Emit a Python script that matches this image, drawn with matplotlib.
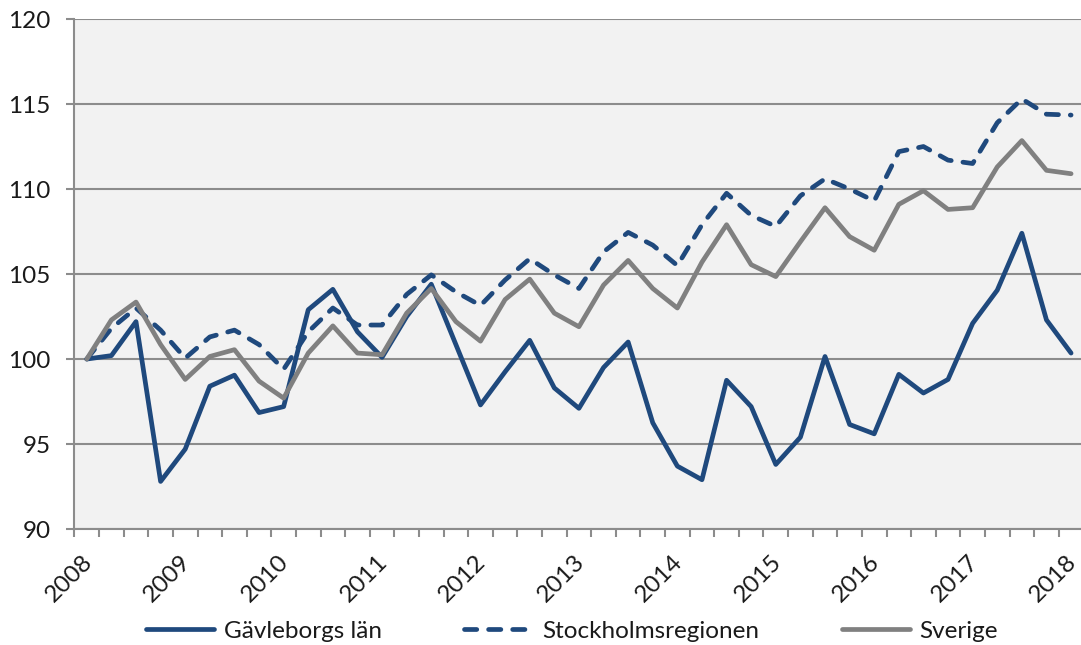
import numpy as np
import matplotlib
matplotlib.use("Agg")
import matplotlib.pyplot as plt
import matplotlib.transforms as mtransforms

# Quarterly index, 2008 Q1 = 100
years = [str(y) for y in range(2008, 2019)]
gavleborg = [100.0, 100.2, 102.2, 92.8, 94.7, 98.4, 99.05, 96.85, 97.2, 102.9,
             104.1, 101.6, 100.1, 102.5, 104.4, 100.85, 97.3, 99.25, 101.1, 98.3,
             97.1, 99.5, 101.0, 96.25, 93.7, 92.9, 98.75, 97.2, 93.8, 95.4,
             100.15, 96.15, 95.6, 99.1, 98.0, 98.8, 102.1, 104.05, 107.4, 102.3,
             100.35]
stockholm = [100.0, 101.8, 103.0, 101.7, 100.05, 101.3, 101.7, 100.85, 99.4, 101.6,
             103.0, 102.0, 102.0, 103.8, 104.95, 103.95, 103.15, 104.65, 105.9, 104.95,
             104.15, 106.3, 107.45, 106.7, 105.5, 107.9, 109.75, 108.45, 107.8, 109.6,
             110.6, 110.0, 109.3, 112.2, 112.5, 111.7, 111.5, 113.9, 115.3, 114.4,
             114.35]
sverige = [100.0, 102.3, 103.35, 100.85, 98.8, 100.15, 100.55, 98.7, 97.7, 100.35,
           101.95, 100.35, 100.25, 102.7, 104.15, 102.2, 101.05, 103.5, 104.7, 102.7,
           101.9, 104.35, 105.8, 104.15, 103.0, 105.7, 107.9, 105.55, 104.85, 106.9,
           108.9, 107.2, 106.4, 109.1, 109.9, 108.8, 108.9, 111.3, 112.85, 111.1,
           110.9]

BLUE = '#1F497D'
GREY = '#808080'
GRID = '#8C8C8C'
FS = 17.5

plt.rcParams['font.family'] = ['Lato', 'DejaVu Sans']

fig = plt.figure(figsize=(10.81, 6.45), dpi=100)
ax = fig.add_axes([0.0689, 0.1798, 0.9333, 0.7907])
ax.set_facecolor('#F2F2F2')

x = np.arange(len(gavleborg))
ax.plot(x, gavleborg, color=BLUE, lw=3.4, solid_capstyle='round',
        solid_joinstyle='round', label='Gävleborgs län', zorder=3)
ax.plot(x, stockholm, color=BLUE, lw=3.4, dashes=(2.6, 2.5),
        dash_capstyle='round', dash_joinstyle='round',
        label='Stockholmsregionen', zorder=4)
ax.plot(x, sverige, color=GREY, lw=3.4, solid_capstyle='round',
        solid_joinstyle='round', label='Sverige', zorder=5)

ax.set_xlim(-0.5, len(gavleborg) - 0.5)
ax.set_ylim(90, 120)
ax.set_yticks(np.arange(90, 121, 5))
ax.yaxis.grid(True, color=GRID, lw=1.5)
ax.set_axisbelow(True)

for s in ['top', 'right']:
    ax.spines[s].set_visible(False)
for s in ['left', 'bottom']:
    ax.spines[s].set_color(GRID)
    ax.spines[s].set_linewidth(1.5)

ax.tick_params(axis='y', direction='out', length=6, width=1.5, color=GRID,
               labelsize=FS, pad=11, labelcolor='#1a1a1a')

# year labels on every 4th quarter, tick marks between categories
ax.set_xticks(np.arange(0, len(gavleborg), 4))
ax.set_xticklabels(years)
ax.set_xticks(np.arange(-0.5, len(gavleborg), 1), minor=True)
ax.tick_params(axis='x', which='major', length=0, pad=21, labelsize=FS,
               labelcolor='#1a1a1a')
ax.tick_params(axis='x', which='minor', direction='out', length=6, width=1.5,
               color=GRID)
offset = mtransforms.ScaledTranslation(2 / 100, 0, fig.dpi_scale_trans)
for lab in ax.get_xticklabels():
    lab.set_rotation(45)
    lab.set_ha('right')
    lab.set_va('center')
    lab.set_rotation_mode('anchor')
    lab.set_transform(lab.get_transform() + offset)

leg = fig.legend(loc='center', bbox_to_anchor=(0.529, 0.021), ncol=3,
                 frameon=False, fontsize=FS, handlelength=2.8,
                 handletextpad=0.4, columnspacing=3.4, labelcolor='#1a1a1a')

fig.savefig('out.png', dpi=100)
